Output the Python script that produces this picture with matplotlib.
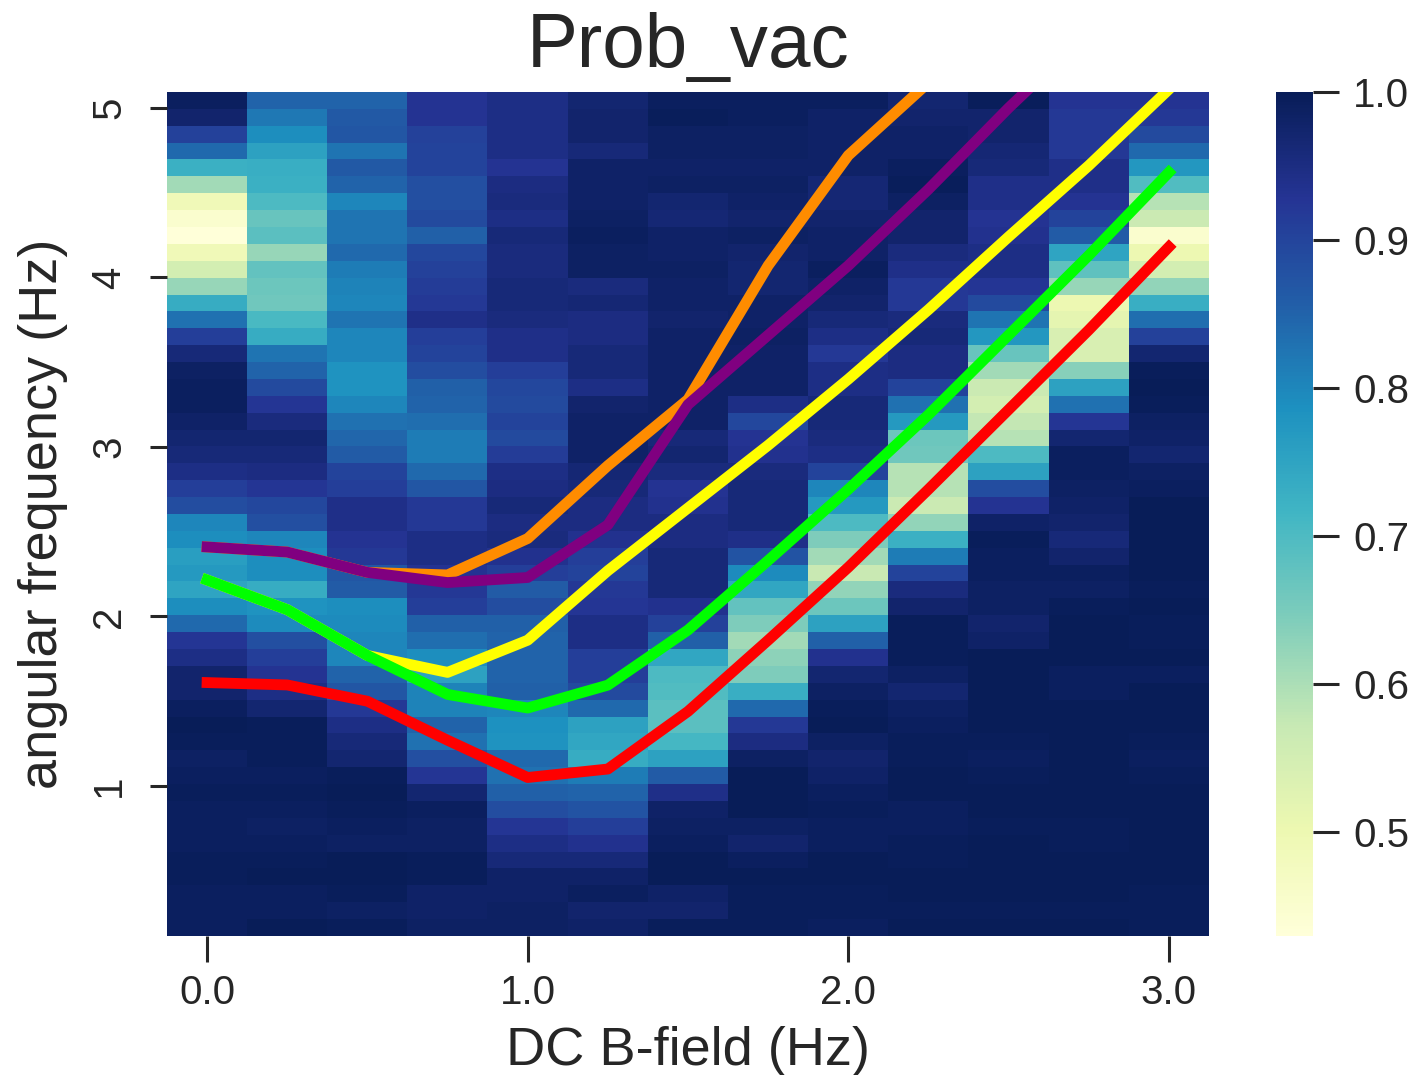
import numpy as np
import matplotlib
matplotlib.use("Agg")
import matplotlib.pyplot as plt

plt.rcParams['font.family'] = ['Liberation Sans', 'DejaVu Sans']
plt.rcParams['text.color'] = '.15'
plt.rcParams['axes.labelcolor'] = '.15'
plt.rcParams['xtick.labelcolor'] = '.15'
plt.rcParams['ytick.labelcolor'] = '.15'

# each column is one DC B-field value, rows run from the top of the map down
b_000 = [.99,.975,.905,.84,.725,.61,.49,.45,.43,.49, .55,.62,.735,.83,.91,.96,.985,.99,.99,.98,
         .97,.96,.945,.91,.885,.80,.79,.76,.77,.75, .79,.84,.925,.945,.975,.975,.99,1.0,.995,.985,
         .99,.995,.99,.99,.99,.995,.995,.99,.99,.99]
b_025 = [.85,.82,.79,.755,.73,.725,.70,.67,.685,.62, .675,.665,.66,.705,.735,.825,.85,.89,.925,.955,
         .97,.96,.95,.925,.895,.88,.80,.79,.79,.735, .78,.795,.88,.91,.93,.945,.97,.995,.995,.995,
         .99,.995,.99,.985,.99,.995,.998,.99,.99,1.0]
b_050 = [.85,.865,.87,.825,.865,.85,.80,.825,.825,.84, .815,.805,.80,.825,.80,.80,.78,.78,.80,.83,
         .845,.86,.90,.91,.94,.94,.93,.92,.87,.86, .79,.795,.80,.80,.85,.87,.92,.945,.96,.97,
         .995,1.0,.995,.99,.985,.998,.998,.995,.985,.995]
b_075 = [.93,.93,.905,.90,.90,.88,.88,.89,.855,.895, .905,.915,.92,.94,.91,.90,.885,.855,.85,.835,
         .815,.815,.84,.87,.92,.92,.945,.945,.93,.92, .91,.855,.835,.79,.755,.805,.805,.85,.83,.88,
         .925,.97,.99,.985,.985,.995,.995,.98,.98,.985]
b_100 = [.945,.945,.945,.945,.93,.95,.955,.945,.96,.955, .955,.96,.96,.955,.94,.94,.91,.895,.89,.90,
         .89,.915,.945,.95,.96,.95,.955,.935,.91,.86, .885,.855,.85,.85,.85,.855,.80,.785,.78,.84,
         .83,.855,.885,.925,.945,.96,.98,.98,.985,.985]
b_125 = [.97,.975,.975,.96,.98,.98,.98,.985,.99,.985, .985,.955,.965,.95,.95,.96,.96,.945,.975,.98,
         .98,.98,.965,.96,.95,.95,.935,.91,.90,.92, .925,.945,.945,.91,.91,.89,.84,.755,.745,.735,
         .815,.85,.875,.91,.935,.96,.98,.99,.975,.98]
b_150 = [.99,.995,.985,.985,.98,.985,.97,.965,.98,.98, .985,.98,.98,.975,.98,.98,.98,.98,.98,.98,
         .96,.97,.955,.93,.935,.95,.95,.96,.96,.96, .935,.905,.855,.745,.70,.695,.685,.685,.71,.755,
         .86,.94,.98,.985,.99,1.0,1.0,.98,.975,.995]
b_175 = [.99,.99,.985,.985,.98,.985,.98,.975,.985,.975, .97,.97,.98,.98,.985,.98,.98,.98,.945,.895,
         .93,.935,.955,.96,.96,.96,.94,.875,.795,.745, .675,.645,.61,.63,.645,.73,.84,.92,.95,.985,
         1.0,1.0,1.0,.985,.975,.99,.998,.995,.995,.995]
b_200 = [.99,.98,.98,.98,.98,.965,.965,.975,.98,.98, .99,.98,.975,.96,.945,.92,.945,.945,.96,.96,
         .955,.945,.90,.80,.77,.70,.645,.61,.57,.625, .665,.755,.855,.935,.97,.985,.995,1.0,.985,.975,
         .98,.99,.995,.99,.99,1.0,1.0,.995,.995,.99]
b_225 = [.97,.975,.98,.98,.99,.995,.985,.975,.975,.955, .94,.92,.92,.955,.96,.95,.95,.90,.83,.77,
         .665,.66,.59,.59,.565,.625,.725,.815,.90,.955, .975,.995,.995,.995,.985,.97,.985,.99,.995,.995,
         .998,.998,.99,.99,.995,.995,1.0,.998,.995,1.0]
b_250 = [.995,.975,.975,.965,.96,.94,.94,.93,.935,.945, .945,.925,.89,.825,.775,.67,.61,.565,.55,.575,
         .59,.70,.755,.885,.93,.98,.995,.99,.99,.985, .985,.975,.98,1.0,1.0,1.0,1.0,1.0,.995,.99,
         .995,1.0,1.0,.995,.998,1.0,1.0,.998,.995,1.0]
b_275 = [.93,.92,.92,.92,.94,.94,.93,.90,.86,.75, .68,.62,.50,.515,.54,.54,.635,.755,.83,.925,
         .97,.99,.99,.985,.98,.975,.96,.975,.99,.985, .995,.998,.998,1.0,.99,.99,.998,1.0,1.0,1.0,
         1.0,1.0,1.0,.995,.995,1.0,1.0,.998,.995,1.0]
b_300 = [.93,.92,.89,.84,.775,.695,.59,.565,.45,.50, .55,.625,.73,.835,.905,.97,.995,1.0,.995,.985,
         .98,.97,.985,.99,.998,1.0,1.0,.998,.998,.995, .998,.995,.995,1.0,.99,1.0,1.0,1.0,.995,.99,
         .995,.998,.998,.998,.998,.998,.998,.995,.995,.995]

b_field = [0.0, 0.25, 0.5, 0.75, 1.0, 1.25, 1.5, 1.75, 2.0, 2.25, 2.5, 2.75, 3.0]

# level curves on top of the map
level_red = [1.61, 1.596, 1.50, 1.27, 1.05, 1.10, 1.44, 1.86, 2.29, 2.75, 3.22, 3.69, 4.18]
level_green = [2.215, 2.04, 1.77, 1.54, 1.46, 1.595, 1.92, 2.33, 2.75, 3.19, 3.66, 4.13, 4.62]
level_yellow = [2.215, 2.04, 1.77, 1.67, 1.86, 2.27, 2.64, 3.01, 3.40, 3.81, 4.24, 4.66, 5.11]
level_purple = [2.41, 2.38, 2.26, 2.20, 2.23, 2.54, 3.25, 3.66, 4.07, 4.52, 5.0, 5.45, 5.9]
level_orange = [2.41, 2.38, 2.26, 2.245, 2.46, 2.89, 3.28, 4.07, 4.72, 5.15, 5.6, 6.0, 6.4]

W, H = 1414, 1075

def main():
    prob_vac = np.column_stack([b_000, b_025, b_050, b_075, b_100, b_125, b_150,
                                b_175, b_200, b_225, b_250, b_275, b_300])

    fig = plt.figure(figsize=(W / 100, H / 100), dpi=100)
    ax = fig.add_axes([167 / W, 1 - 936 / H, (1209 - 167) / W, (936 - 92) / H])
    cax = fig.add_axes([1276 / W, 1 - 936 / H, (1313 - 1276) / W, (936 - 92) / H])

    im = ax.imshow(prob_vac, cmap='YlGnBu', vmin=0.43, vmax=1.0, aspect='auto',
                   interpolation='nearest', extent=[-0.125, 3.125, 0.115, 5.094])

    # first one drawn ends up underneath
    for level, color in [(level_orange, '#ff8c00'), (level_purple, 'purple'),
                         (level_yellow, 'yellow'), (level_green, 'lime'), (level_red, 'red')]:
        ax.plot(b_field, level, color=color, linewidth=7.8)

    ax.set_xlim(-0.125, 3.125)
    ax.set_ylim(0.115, 5.094)
    for side in ax.spines.values():
        side.set_visible(False)

    ax.set_xticks([0, 1, 2, 3], ['0.0', '1.0', '2.0', '3.0'])
    ax.set_yticks([1, 2, 3, 4, 5], ['1', '2', '3', '4', '5'])
    ax.tick_params(axis='x', length=19, width=2.2, color='.15', labelsize=29, pad=8.5)
    ax.tick_params(axis='y', length=12, width=2.2, color='.15', labelsize=29, pad=16)
    for label in ax.get_yticklabels():
        label.set_rotation(90)
        label.set_va('center')

    ax.set_title('Prob_vac', fontsize=55, pad=18)
    ax.set_xlabel('DC B-field (Hz)', fontsize=39, labelpad=10)
    ax.set_ylabel('angular frequency (Hz)', fontsize=39, labelpad=16)

    cbar = fig.colorbar(im, cax=cax)
    cbar.outline.set_visible(False)
    cbar.set_ticks([0.5, 0.6, 0.7, 0.8, 0.9, 1.0])
    cbar.ax.tick_params(length=19, width=2.2, color='.15', labelsize=29, pad=10)
    cbar.ax.set_yticklabels(['0.5', '0.6', '0.7', '0.8', '0.9', '1.0'])

    fig.savefig('out.png', dpi=100)

if __name__ == "__main__":
    main()
